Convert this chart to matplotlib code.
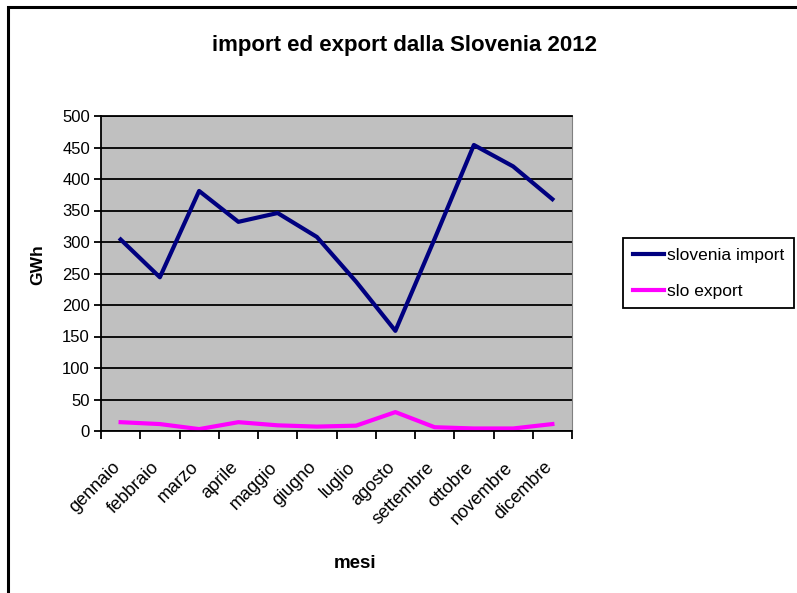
import matplotlib
matplotlib.use("Agg")
from matplotlib import pyplot as plt
from matplotlib.patches import Rectangle
from matplotlib.transforms import ScaledTranslation

mesi = ["gennaio", "febbraio", "marzo", "aprile", "maggio", "giugno",
        "luglio", "agosto", "settembre", "ottobre", "novembre", "dicembre"]
slovenia_import = [304, 244, 381, 332, 346, 308, 237, 159, 305, 454, 420, 368]
slo_export = [14, 11, 3, 14, 9, 7, 8.5, 30, 6, 4, 4, 11]
y_ticks = [0, 50, 100, 150, 200, 250, 300, 350, 400, 450, 500]

plt.rcParams["font.family"] = ["Liberation Sans", "DejaVu Sans"]

fig = plt.figure(figsize=(7.97, 5.93), dpi=100)
# cornice del grafico (esce dal bordo a destra e in basso)
fig.patches.append(Rectangle((8 / 797, -0.05), 1.1, 1.05 - 7 / 593, transform=fig.transFigure,
                             fill=False, edgecolor="black", linewidth=2.2))

ax = fig.add_axes([101 / 797, 1 - 431 / 593, 471 / 797, 315 / 593])
ax.set_facecolor("#C0C0C0")

x = list(range(len(mesi)))
ax.plot(x, slovenia_import, color="#000080", linewidth=3, label="slovenia import")
ax.plot(x, slo_export, color="#FF00FF", linewidth=3, label="slo export")

ax.set_xlim(-0.5, len(mesi) - 0.5)
ax.set_ylim(0, 500)
ax.set_yticks(y_ticks)
ax.yaxis.grid(True, color="black", linewidth=1.3)
ax.set_axisbelow(True)

# tacche tra le categorie, etichette al centro
ax.set_xticks([i - 0.5 for i in range(len(mesi) + 1)])
ax.set_xticklabels([])
ax.set_xticks(x, minor=True)
ax.set_xticklabels(mesi, minor=True, rotation=45, ha="right", rotation_mode="anchor",
                   fontsize=13)
ax.tick_params(axis="x", which="major", length=6, width=1.3, direction="out")
ax.tick_params(axis="x", which="minor", length=0, pad=20)
ax.tick_params(axis="y", length=5, width=1.3, labelsize=12, pad=3)
sposta = ScaledTranslation(-9 / 100, 0, fig.dpi_scale_trans)
for lab in ax.get_xticklabels(minor=True):
    lab.set_transform(lab.get_transform() + sposta)

for s in ["left", "bottom", "top"]:
    ax.spines[s].set_linewidth(1.3)
    ax.spines[s].set_color("black")
ax.spines["right"].set_color("#808080")

fig.text(404 / 797, 1 - 45 / 593, "import ed export dalla Slovenia 2012",
         fontsize=16, fontweight="bold", ha="center", va="center")
fig.text(38 / 797, 1 - 265 / 593, "GWh", fontsize=12.5, fontweight="bold",
         rotation=90, ha="center", va="center")
fig.text(355 / 797, 1 - 564 / 593, "mesi", fontsize=13.5, fontweight="bold",
         ha="center", va="center")

leg = ax.legend(loc="upper left", bbox_to_anchor=(623 / 797, 1 - 238 / 593),
                bbox_transform=fig.transFigure, fontsize=12.5, frameon=True,
                fancybox=False, edgecolor="black", framealpha=1, borderpad=0.55,
                handlelength=1.8, handletextpad=0.2, labelspacing=1.2,
                borderaxespad=0)
leg.get_frame().set_linewidth(1.3)

fig.savefig("out.png", dpi=100)
